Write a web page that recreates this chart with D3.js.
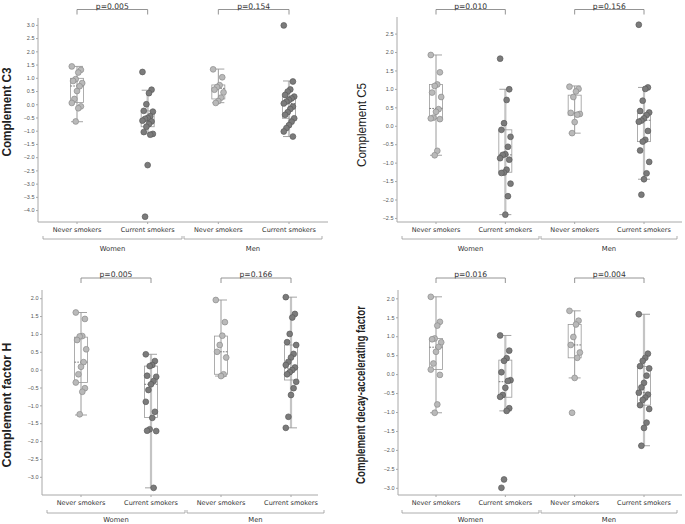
<!DOCTYPE html>
<html><head><meta charset="utf-8">
<script src="https://cdn.jsdelivr.net/npm/d3@7"></script>
<style>body{margin:0;background:#fff}svg{display:block}</style>
</head><body>
<script>
// ---------- DATA ----------
const categories = ["Never smokers", "Current smokers", "Never smokers", "Current smokers"];
const groups = ["Women", "Men"];
const yTitles = ["Complement C3", "Complement C5", "Complement factor H", "Complement decay-accelerating factor"];
const pLabels = [["p=0.005", "p=0.154"], ["p=0.010", "p=0.156"], ["p=0.005", "p=0.166"], ["p=0.016", "p=0.004"]];
const ticksC3 = [-4.0, -3.5, -3.0, -2.5, -2.0, -1.5, -1.0, -0.5, 0.0, 0.5, 1.0, 1.5, 2.0, 2.5, 3.0];
const ticksC5 = [-2.5, -2.0, -1.5, -1.0, -0.5, 0.0, 0.5, 1.0, 1.5, 2.0, 2.5];
const ticksH = [-3.0, -2.5, -2.0, -1.5, -1.0, -0.5, 0.0, 0.5, 1.0, 1.5, 2.0];
const ticksDAF = [-3.0, -2.5, -2.0, -1.5, -1.0, -0.5, 0.0, 0.5, 1.0, 1.5, 2.0];

// points per category: [women never, women current, men never, men current]
const pointsC3 = [
  [1.43, 1.30, 1.20, 0.95, 0.88, 0.80, 0.68, 0.50, 0.20, 0.05, -0.08, -0.15, -0.65],
  [1.22, 0.55, 0.42, 0.0, -0.25, -0.28, -0.45, -0.52, -0.55, -0.62, -0.65, -0.75, -0.85, -1.05, -1.12, -1.15, -2.3, -4.25],
  [1.32, 1.02, 0.72, 0.65, 0.55, 0.45, 0.25, 0.12, 0.05],
  [2.98, 0.86, 0.56, 0.48, 0.35, 0.29, 0.22, 0.16, 0.10, 0.03, -0.09, -0.18, -0.30, -0.40, -0.53, -0.66, -0.79, -0.90, -1.03, -1.22]
];
const pointsC5 = [
  [1.92, 1.45, 1.12, 1.08, 0.90, 0.78, 0.45, 0.38, 0.22, 0.20, 0.18, -0.68, -0.80],
  [1.82, 0.99, 0.70, 0.07, -0.11, -0.30, -0.57, -0.77, -0.79, -0.88, -0.92, -1.19, -1.27, -1.28, -1.57, -1.91, -2.41],
  [1.06, 1.00, 0.93, 0.78, 0.35, 0.32, 0.30, 0.10, -0.20],
  [2.74, 1.04, 1.00, 0.68, 0.40, 0.36, 0.29, 0.20, 0.14, 0.11, -0.14, -0.38, -0.43, -0.67, -0.98, -1.29, -1.45, -1.87]
];
const pointsH = [
  [1.60, 1.42, 0.94, 0.93, 0.83, 0.57, 0.21, 0.08, -0.13, -0.36, -0.52, -0.62, -1.25],
  [0.43, 0.24, 0.13, 0.10, -0.17, -0.20, -0.32, -0.41, -0.57, -0.90, -1.18, -1.35, -1.67, -1.71, -1.72, -3.31],
  [1.95, 1.33, 0.95, 0.69, 0.50, 0.34, -0.13, -0.18],
  [2.03, 1.56, 1.46, 1.00, 0.77, 0.69, 0.44, 0.34, 0.22, 0.13, 0.06, -0.01, -0.07, -0.13, -0.34, -0.52, -0.71, -1.32, -1.63]
];
const pointsDAF = [
  [2.04, 1.38, 1.28, 0.94, 0.92, 0.84, 0.72, 0.59, 0.28, 0.12, -0.02, -0.80, -1.02],
  [1.02, 0.62, 0.42, 0.35, 0.05, -0.16, -0.18, -0.36, -0.55, -0.60, -0.90, -0.97, -2.78, -3.00],
  [1.67, 1.41, 1.31, 0.98, 0.77, 0.57, 0.43, -0.10, -1.02],
  [1.58, 0.54, 0.43, 0.35, 0.21, 0.15, -0.04, -0.23, -0.35, -0.49, -0.54, -0.62, -0.68, -0.82, -0.92, -1.28, -1.42, -1.89]
];
// box stats per category: [whisker low, q1, median, q3, whisker high]
const boxC3 = [[-0.66, 0.07, 0.69, 0.98, 1.43], [-1.12, -0.85, -0.63, -0.25, 0.53], [0.06, 0.20, 0.60, 0.73, 1.33], [-1.22, -0.53, 0.03, 0.29, 0.88]];
const boxC5 = [[-0.80, 0.20, 0.47, 1.12, 1.92], [-2.41, -1.26, -0.79, -0.11, 0.99], [-0.20, 0.29, 0.34, 0.83, 1.08], [-1.45, -0.43, 0.15, 0.34, 1.04]];
const boxH = [[-1.27, -0.36, 0.21, 0.91, 1.60], [-3.31, -1.34, -0.41, 0.10, 0.43], [-0.18, -0.13, 0.50, 0.94, 1.95], [-1.63, -0.29, 0.04, 0.69, 2.03]];
const boxDAF = [[-1.02, 0.12, 0.71, 0.94, 2.04], [-0.97, -0.61, -0.20, 0.37, 1.02], [-0.10, 0.43, 0.77, 1.31, 1.67], [-1.89, -0.82, -0.49, 0.20, 1.58]];

// ---------- LAYOUT ----------
const W = 685, H = 524;
const svg = d3.select("body").append("svg").attr("width", W).attr("height", H)
  .style("font-family", "'DejaVu Sans', Verdana, sans-serif");

const panels = [
  {title: yTitles[0], p: pLabels[0], ticks: ticksC3, pts: pointsC3, box: boxC3,
   ax0: 38, ax1: 328, c0: 77, c3: 289, yTop: 18, yBot: 222, dom: [-4.45, 3.26],
   tx: 7, ty: 112, tlen: 89, tw: "bold", brY: 9.5, catY: 230, grpY: 239, grpLY: 249},
  {title: yTitles[1], p: pLabels[1], ticks: ticksC5, pts: pointsC5, box: boxC5,
   ax0: 397, ax1: 682, c0: 436, c3: 644, yTop: 17, yBot: 222, dom: [-2.61, 2.95],
   tx: 362, ty: 125, tlen: 84, tw: "normal", brY: 9.5, catY: 230, grpY: 239, grpLY: 249},
  {title: yTitles[2], p: pLabels[2], ticks: ticksH, pts: pointsH, box: boxH,
   ax0: 42, ax1: 318, c0: 81, c3: 291, yTop: 290, yBot: 495, dom: [-3.51, 2.23],
   tx: 7, ty: 405, tlen: 125, tw: "bold", brY: 278, catY: 503, grpY: 513, grpLY: 519.5},
  {title: yTitles[3], p: pLabels[3], ticks: ticksDAF, pts: pointsDAF, box: boxDAF,
   ax0: 398, ax1: 682, c0: 436, c3: 644, yTop: 290, yBot: 495, dom: [-3.19, 2.22],
   tx: 361, ty: 395, tlen: 178, tw: "bold", brY: 278, catY: 503, grpY: 513, grpLY: 519.5}
];

const axisCol = "#a8a8a8";
const fillCol = ["#b9b9b9", "#7b7b7b", "#b9b9b9", "#7b7b7b"];
const strokeCol = ["#8d8d8d", "#5c5c5c", "#8d8d8d", "#5c5c5c"];

panels.forEach(P => {
  const g = svg.append("g");
  const catIdx = [0, 1, 2, 3];
  const x = d3.scalePoint().domain(catIdx).range([P.c0, P.c3]);
  const y = d3.scaleLinear().domain(P.dom).range([P.yBot, P.yTop]);

  // y axis
  const yAxis = d3.axisLeft(y).tickValues(P.ticks).tickFormat(d3.format(".1f")).tickSize(2).tickPadding(1.5);
  const ya = g.append("g").attr("transform", `translate(${P.ax0},0)`).call(yAxis);
  ya.select(".domain").attr("stroke", axisCol).attr("d", `M0,${P.yTop}V${P.yBot}`);
  ya.selectAll(".tick line").attr("stroke", axisCol);
  ya.selectAll(".tick text").attr("fill", "#555").style("font-size", "5.5px");

  // x axis
  g.append("line").attr("x1", P.ax0).attr("x2", P.ax1).attr("y1", P.yBot).attr("y2", P.yBot).attr("stroke", axisCol);
  g.selectAll(".xt").data(catIdx).join("line")
    .attr("x1", d => x(d)).attr("x2", d => x(d)).attr("y1", P.yBot).attr("y2", P.yBot + 2).attr("stroke", axisCol);
  g.selectAll(".xl").data(catIdx).join("text")
    .attr("x", d => x(d)).attr("y", P.catY + 2.3).attr("text-anchor", "middle")
    .style("font-size", "6.5px").attr("fill", "#333").text(d => categories[d]);

  // group brackets
  const mid = (x(1) + x(2)) / 2;
  const gb = [[x(0) - 34, mid - 1], [mid + 1, x(3) + 33]];
  gb.forEach((b, i) => {
    g.append("path").attr("d", `M${b[0]},${P.grpY - 3}V${P.grpY}H${b[1]}V${P.grpY - 3}`)
      .attr("fill", "none").attr("stroke", "#999").attr("stroke-width", 0.8);
    g.append("text").attr("x", (b[0] + b[1]) / 2).attr("y", P.grpLY + 2.4).attr("text-anchor", "middle")
      .style("font-size", "6.8px").attr("fill", "#333").text(groups[i]);
  });

  // p-value brackets
  [[0, 1], [2, 3]].forEach((pr, i) => {
    g.append("path").attr("d", `M${x(pr[0])},${P.brY + 5}V${P.brY}H${x(pr[1])}V${P.brY + 5}`)
      .attr("fill", "none").attr("stroke", "#888").attr("stroke-width", 0.9);
    g.append("text").attr("x", (x(pr[0]) + x(pr[1])) / 2).attr("y", P.brY - 1)
      .attr("text-anchor", "middle").style("font-size", "7.6px").attr("fill", "#333").text(P.p[i]);
  });

  // boxes
  const bw = 13;
  catIdx.forEach(c => {
    const [lo, q1, med, q3, hi] = P.box[c];
    const cx = x(c);
    const current = c % 2 === 1;
    g.append("line").attr("x1", cx).attr("x2", cx).attr("y1", y(lo)).attr("y2", y(hi))
      .attr("stroke", current ? "#c4c4c4" : "#9a9a9a").attr("stroke-width", current ? 2.2 : 1);
    g.append("rect").attr("x", cx - bw / 2).attr("width", bw).attr("y", y(q3)).attr("height", y(q1) - y(q3))
      .attr("fill", "none").attr("stroke", "#999").attr("stroke-width", 0.8);
    g.append("line").attr("x1", cx - bw / 2).attr("x2", cx + bw / 2).attr("y1", y(med)).attr("y2", y(med))
      .attr("stroke", "#555").attr("stroke-width", 0.8).attr("stroke-dasharray", "1.6,1.2");
    [lo, hi].forEach(v => {
      g.append("line").attr("x1", cx - 6).attr("x2", cx + 6).attr("y1", y(v)).attr("y2", y(v))
        .attr("stroke", "#999").attr("stroke-width", 0.9);
    });
  });

  // points (deterministic jitter pattern)
  catIdx.forEach(c => {
    g.selectAll(null).data(P.pts[c]).join("circle")
      .attr("cx", (d, i) => x(c) + (((i * 7) % 9) - 4) * 1.3)
      .attr("cy", d => y(d)).attr("r", 2.9)
      .attr("fill", fillCol[c]).attr("stroke", strokeCol[c]).attr("stroke-width", 0.7);
  });

  // y title
  g.append("text").attr("transform", `translate(${P.tx + 4},${P.ty}) rotate(-90)`)
    .attr("text-anchor", "middle").style("font-family", "'Liberation Sans', Arial, sans-serif")
    .style("font-size", "12px").style("font-weight", P.tw).attr("fill", "#222")
    .attr("textLength", P.tlen).attr("lengthAdjust", "spacingAndGlyphs").text(P.title);
});
</script>
</body></html>
